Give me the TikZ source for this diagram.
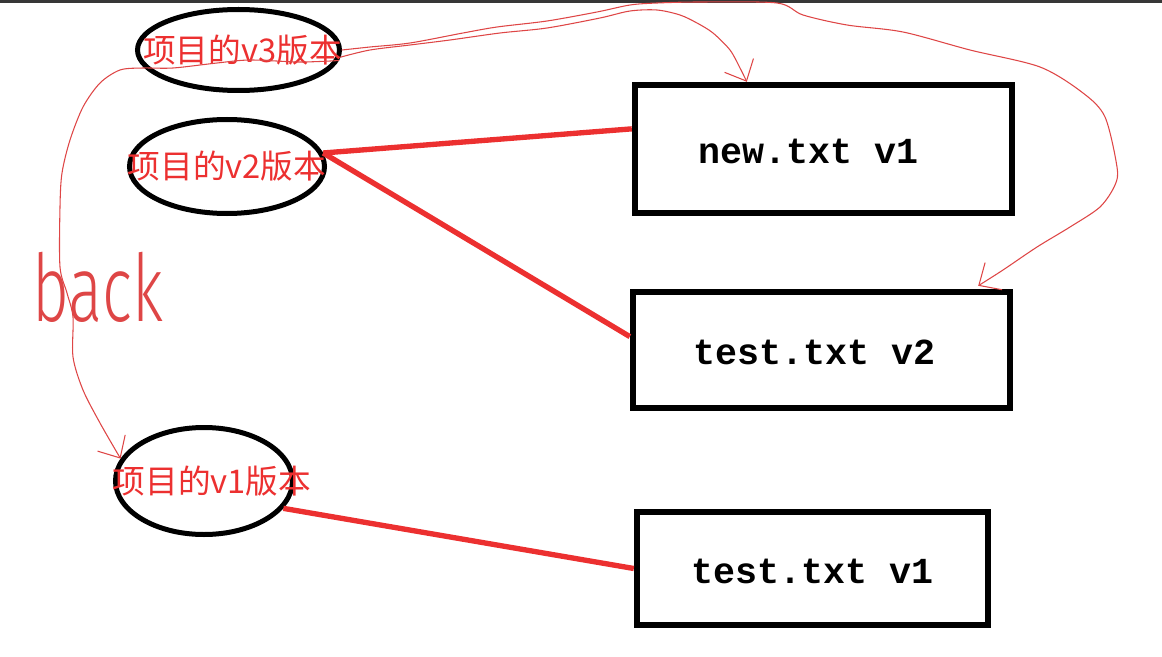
\documentclass[tikz,border=0pt]{standalone}
\usepackage{fontspec}
\usetikzlibrary{shapes.geometric,arrows.meta,calc}

\newfontfamily\cjkfont{Noto Sans CJK SC}
\newfontfamily\filefont{Liberation Mono}
\newfontfamily\handfont{Fira Sans Light}

\definecolor{penred}{RGB}{236,48,48}
\definecolor{inkred}{RGB}{222,70,70}
\definecolor{barcolor}{RGB}{55,55,55}

\tikzset{
  verellipse/.style={ellipse, draw=black, line width=3.75pt, inner sep=0pt},
  verlabel/.style={text=penred, inner sep=0pt, font=\cjkfont\fontsize{24.5}{26}\selectfont},
  filebox/.style={rectangle, draw=black, line width=4.8pt, inner sep=0pt,
    text height=22pt, text depth=0pt,
    font=\filefont\bfseries\fontsize{27.5}{28}\selectfont},
  verlink/.style={draw=penred, line width=4pt},
  handline/.style={draw=inkred, line width=0.8pt, line join=round, line cap=round},
  handarrow/.style={handline, -{Straight Barb[length=13pt,width=24pt]}}
}

\begin{document}
\begin{tikzpicture}[x=0.75pt,y=0.75pt,yscale=-1,xscale=1]
    \useasboundingbox (0,0) rectangle (1162,656);
    %Shape: top bar
    \fill [barcolor] (0,0) rectangle (1162,3);

    %Shape: Ellipse v3
    \node [verellipse, minimum width=151.5pt, minimum height=60.75pt,
      label={[verlabel,xshift=3pt]center:项目的v3版本}] (v3) at (238.5,50) {};
    %Shape: Ellipse v2
    \node [verellipse, minimum width=146.25pt, minimum height=70.5pt,
      label={[verlabel]center:项目的v2版本}] (v2) at (227,166.5) {};
    %Shape: Ellipse v1
    \node [verellipse, minimum width=132.75pt, minimum height=80.25pt,
      label={[verlabel,xshift=6pt]center:项目的v1版本}] (v1) at (204,481) {};

    %Shape: Rectangle new.txt
    \node [filebox, minimum width=282.75pt, minimum height=96pt] (new) at (823.5,149) {new.txt v1\hspace*{22pt}};
    %Shape: Rectangle test.txt v2
    \node [filebox, minimum width=282.75pt, minimum height=87pt] (tv2) at (821.5,350) {test.txt v2\hspace*{10pt}};
    %Shape: Rectangle test.txt v1
    \node [filebox, minimum width=263.25pt, minimum height=84.75pt] (tv1) at (812.5,568.5) {test.txt v1};

    %Straight Lines
    \draw [verlink] (v2.8) -- (new.174.6);
    \draw [verlink] (v2.8) -- (tv2.176.4);
    \draw [verlink] (v1.-19) -- (tv1.west);

    \coordinate (newtip) at ($(new.north west)!0.3!(new.north east)$);
    \coordinate (tv2tip) at ($(tv2.north east)+(-35,-3)$);

    %Curve Lines: v3 to new.txt
    \draw [handarrow] plot [smooth] coordinates {(v3.-4) (370,50) (410,45) (450,40) (500,33) (547,28) (600,18) (630,11) (657,10) (680,15) (697,23) (713,33) (730,50) (740,68) (newtip)};
    %Curve Lines: v3 to test.txt v2
    \draw [handarrow] plot [smooth] coordinates {(v3.east) (370,47) (410,43) (463,33) (497,27) (547,21) (597,12) (630,5) (657,3) (700,2) (777,3) (803,15) (847,25) (903,32) (970,50) (1040,67) (1083,93) (1105,117) (1117,167) (1115,185) (1100,207) (1070,227) (1037,247) (1003,270) (tv2tip)};
    %Curve Lines: back to v1
    \draw [handarrow] plot [smooth] coordinates {(v3.-6) (300,62) (250,60) (217,63) (173,68) (143,68) (120,70) (100,83) (83,107) (70,140) (62,173) (60,207) (60,267) (67,293) (73,317) (73,357) (83,390) (100,423) (v1.165)};

    % Text Node
    \node [text=inkred, inner sep=0pt, font=\handfont\fontsize{70}{70}\selectfont] (back) at (98,287) {\scalebox{0.68}[1]{back}};
\end{tikzpicture}
\end{document}
